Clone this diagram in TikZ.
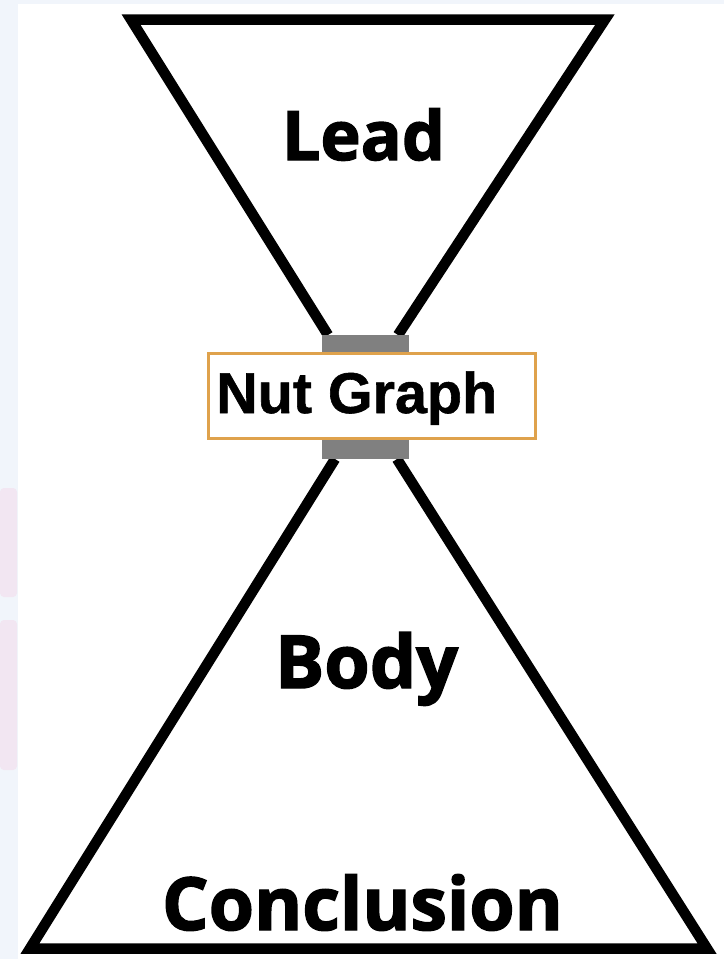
\documentclass[tikz,border=0pt]{standalone}
\usepackage{fontspec}
\setmainfont{Open Sans}
\newfontfamily\heavyfont{Open Sans}[BoldFeatures={FakeBold=2}]
\newfontfamily\arialfont{Liberation Sans}[BoldFeatures={FakeBold=1}]
\definecolor{bgblue}{HTML}{F1F5FB}
\definecolor{bgpink}{HTML}{F2E6F2}
\definecolor{neckgray}{HTML}{808080}
\definecolor{boxorange}{HTML}{DFA24C}
\tikzset{
  outline/.style={line width=10.5pt, line join=miter, black},
  neck/.style={fill=neckgray, draw=none},
  title/.style={anchor=base, inner sep=0pt, font=\heavyfont\bfseries},
}
\begin{document}
\begin{tikzpicture}[x=1pt,y=-1pt]
\useasboundingbox (0,0) rectangle (724,959);
% background
\fill[bgblue] (0,0) rectangle (724,959);
\fill[bgpink, rounded corners=4pt] (0,488) rectangle (17,597);
\fill[bgpink, rounded corners=4pt] (0,620) rectangle (17,770);
\fill[white] (18,4) rectangle (724,959);
% upper funnel
\draw[outline] (328,335) -- (131,19.5) -- (605,19.5) -- (398,335);
% lower funnel
\draw[outline] (335,459) -- (30,948.5) -- (707,948.5) -- (397,459);
% neck blocks
\fill[neck] (322,335) rectangle (409,354);
\fill[neck] (322,438) rectangle (409,459);
% nut graph box
\node[draw=boxorange, line width=2.2pt, fill=white, minimum width=327pt, minimum height=85pt, inner sep=0pt] (nut) at (372,396) {};
\node[anchor=base west, inner sep=0pt, font=\arialfont\bfseries] (nuttext) at (216,413) {\resizebox{281pt}{!}{Nut Graph}};
% labels
\node[title] (lead) at (363.5,160) {\resizebox{163pt}{!}{Lead}};
\node[title] (body) at (366.5,688) {\resizebox{183pt}{!}{Body}};
\node[title] (concl) at (362.5,930) {\resizebox{401pt}{!}{Conclusion}};
\end{tikzpicture}
\end{document}
